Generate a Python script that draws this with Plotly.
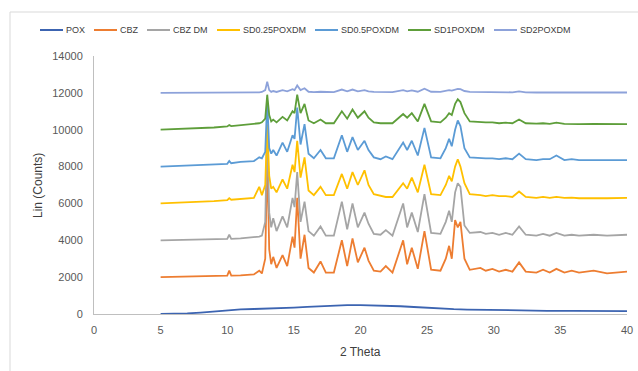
import plotly.graph_objects as go

# 2-theta grid shared by the crystalline patterns
two_theta = [5, 7, 9, 10.0, 10.15, 10.3, 11, 12.0, 12.4, 12.6, 12.85, 13.0, 13.15, 13.3, 13.45, 13.7,
             14.15, 14.5, 14.9, 15.05, 15.25, 15.5, 15.8, 16.1, 16.5, 17.0, 17.4, 18.0, 18.6, 19.0,
             19.4, 19.8, 20.3, 20.6, 21.0, 21.5, 21.9, 22.4, 23.2, 23.5, 23.85, 24.3, 24.8, 25.3,
             26.0, 26.4, 26.65, 26.85, 27.1, 27.3, 27.5, 27.8, 28.2, 29.0, 29.4, 29.9, 30.4, 30.9,
             31.4, 31.9, 32.4, 33.2, 33.7, 34.2, 34.7, 35.3, 35.85, 36.4, 37.5, 38.5, 40]

pox_theta = [5, 6, 7, 8, 9, 10, 11, 12, 13, 14, 15, 16, 17, 18, 19, 20, 21, 22, 23, 24, 25, 26,
             27, 28, 30, 32, 34, 36, 38, 40]
pox = [0, 5, 30, 80, 150, 210, 250, 270, 290, 320, 350, 390, 430, 460, 480, 480, 470, 450, 420,
       380, 330, 290, 260, 240, 210, 190, 175, 165, 160, 160]

cbz = [2000, 2020, 2050, 2080, 2350, 2080, 2100, 2150, 2350, 2200, 3000, 8500, 3500, 2700, 3100, 2500,
       3200, 2600, 4200, 3600, 6300, 3000, 4300, 2500, 2250, 2850, 2250, 2250, 4000, 2600,
       4100, 2800, 3600, 2900, 2350, 2300, 2600, 2250, 4000, 2700, 3600, 2450, 4500, 2400,
       2350, 3000, 3700, 3000, 5100, 4700, 5000, 3000, 2400, 2500, 2350, 2450, 2300, 2400,
       2300, 2800, 2300, 2250, 2400, 2250, 2450, 2250, 2350, 2250, 2350, 2200, 2300]

cbz_dm = [4000, 4020, 4050, 4080, 4300, 4080, 4100, 4150, 4200, 4250, 5000, 10000, 5500, 4700, 5200, 4500,
          5300, 4700, 6300, 5800, 7700, 5000, 6100, 4500, 4250, 4750, 4250, 4250, 6100, 4600,
          6000, 4700, 5500, 4900, 4350, 4300, 4550, 4250, 6000, 4700, 5500, 4450, 6500, 4400,
          4350, 5000, 5600, 5000, 6600, 7100, 6900, 4800, 4400, 4450, 4350, 4400, 4300, 4400,
          4300, 4750, 4300, 4250, 4350, 4250, 4400, 4250, 4300, 4250, 4300, 4250, 4300]

sd025 = [6000, 6050, 6120, 6180, 6280, 6200, 6250, 6300, 6900, 6450, 7000, 10300, 7500, 6800, 6900, 6600,
         7300, 6800, 8100, 7700, 9400, 7400, 8500, 6700, 6450, 6900, 6450, 6450, 7600, 6800,
         7700, 7000, 7800, 7000, 6500, 6400, 6350, 6350, 7100, 6800, 7400, 6600, 8100, 6500,
         6450, 7000, 7500, 7200, 8000, 8400, 8000, 7100, 6500, 6450, 6400, 6450, 6400, 6400,
         6350, 6650, 6350, 6300, 6350, 6300, 6350, 6300, 6320, 6280, 6300, 6280, 6300]

sd05 = [8000, 8050, 8100, 8150, 8300, 8180, 8250, 8300, 8500, 8450, 8800, 11600, 9000, 8700, 8900, 8600,
        9300, 8800, 9700, 9500, 11200, 9200, 10300, 8700, 8450, 8900, 8450, 8450, 9700, 8800,
        9600, 8900, 9400, 8900, 8500, 8400, 8550, 8400, 9300, 8900, 9400, 8600, 10100, 8500,
        8450, 9000, 9500, 9100, 10000, 10500, 10200, 9000, 8500, 8450, 8450, 8450, 8400, 8450,
        8400, 8700, 8400, 8350, 8400, 8400, 8600, 8350, 8400, 8350, 8350, 8330, 8350]

sd1 = [10000, 10050, 10120, 10180, 10250, 10200, 10250, 10300, 10350, 10400, 10600, 11900, 10800, 10450,
       10550, 10400, 10700, 10500, 11000, 10900, 11900, 10900, 11400, 10500, 10350, 10550, 10350,
       10350, 11000, 10600, 11100, 10650, 11000, 10650, 10400, 10350, 10350, 10350, 10850, 10650,
       10900, 10450, 11400, 10450, 10400, 10650, 10900, 10800, 11400, 11650, 11500, 10900, 10450,
       10400, 10400, 10400, 10350, 10380, 10350, 10550, 10350, 10330, 10350, 10320, 10380, 10320,
       10330, 10300, 10310, 10300, 10300]

sd2 = [12000, 12000, 12010, 12010, 12020, 12010, 12010, 12020, 12030, 12050, 12150, 12600, 12150, 12050,
       12100, 12050, 12150, 12080, 12200, 12150, 12400, 12150, 12250, 12060, 12040, 12060, 12040,
       12040, 12180, 12080, 12180, 12080, 12150, 12080, 12050, 12040, 12040, 12040, 12150, 12080,
       12130, 12060, 12220, 12060, 12050, 12100, 12150, 12120, 12200, 12220, 12200, 12100, 12050,
       12040, 12040, 12040, 12030, 12030, 12030, 12080, 12030, 12020, 12030, 12020, 12030, 12020,
       12020, 12020, 12020, 12020, 12020]

names = ["POX", "CBZ", "CBZ DM", "SD0.25POXDM", "SD0.5POXDM", "SD1POXDM", "SD2POXDM"]
colors = ["#3C64B1", "#ED7D31", "#A5A5A5", "#FFC000", "#5B9BD5", "#5E9E3A", "#8DA2DA"]
series_y = [pox, cbz, cbz_dm, sd025, sd05, sd1, sd2]
series_x = [pox_theta] + [two_theta] * 6

W, H = 638, 371
L, T = 94, 56
PR, PB = 627, 314
R, B = W - PR, H - PB
PW, PH = PR - L, PB - T


def px(x):
    return (x - L) / PW


def py(y):
    return (PB - y) / PH


fig = go.Figure()
for nm, c, xs, ys in zip(names, colors, series_x, series_y):
    fig.add_trace(go.Scatter(x=xs, y=ys, mode="lines", name=nm,
                             line=dict(color=c, width=1.8)))

# manual legend (Excel style: short line + label, single row)
legend_starts = [40, 94, 147, 217, 315, 408, 494]
shapes = [dict(type="rect", xref="paper", yref="paper", x0=px(10), x1=px(700), y0=py(420), y1=py(12),
               line=dict(color="#D9D9D9", width=1), fillcolor="rgba(0,0,0,0)", layer="below")]
annotations = []
for nm, c, x0 in zip(names, colors, legend_starts):
    shapes.append(dict(type="line", xref="paper", yref="paper", x0=px(x0), x1=px(x0 + 23),
                       y0=py(30), y1=py(30), line=dict(color=c, width=2)))
    annotations.append(dict(text=nm, xref="paper", yref="paper", x=px(x0 + 24), y=py(30),
                            xanchor="left", yanchor="middle", showarrow=False,
                            font=dict(family="Liberation Sans", size=9, color="#404040")))

annotations.append(dict(text="2 Theta", xref="paper", yref="paper", x=px(360), y=py(352),
                        xanchor="center", yanchor="middle", showarrow=False,
                        font=dict(family="Liberation Sans", size=12, color="#404040")))
annotations.append(dict(text="Lin (Counts)", xref="paper", yref="paper", x=px(38), y=py(185),
                        xanchor="center", yanchor="middle", showarrow=False, textangle=-90,
                        font=dict(family="Liberation Sans", size=12, color="#404040")))

tick_font = dict(family="Liberation Sans", size=11, color="#595959")
fig.update_layout(
    width=W, height=H,
    margin=dict(l=L, r=R, t=T, b=B, autoexpand=False),
    paper_bgcolor="white", plot_bgcolor="white",
    font=dict(family="Liberation Sans", color="#595959"),
    showlegend=False,
    xaxis=dict(range=[0, 40], dtick=5, tick0=0, showgrid=False, zeroline=False,
               showline=True, linecolor="#BFBFBF", linewidth=1, ticks="",
               tickfont=tick_font, ticklabelstandoff=6, automargin=False),
    yaxis=dict(range=[0, 14000], dtick=2000, tick0=0, showgrid=False, zeroline=False,
               showline=True, linecolor="#BFBFBF", linewidth=1, ticks="", tickformat="d",
               tickfont=tick_font, ticklabelstandoff=8, automargin=False),
    shapes=shapes,
    annotations=annotations,
)

fig.write_html("out.html", config={"displayModeBar": False},
               post_script="document.body.style.margin='0';document.body.style.overflow='hidden';")
